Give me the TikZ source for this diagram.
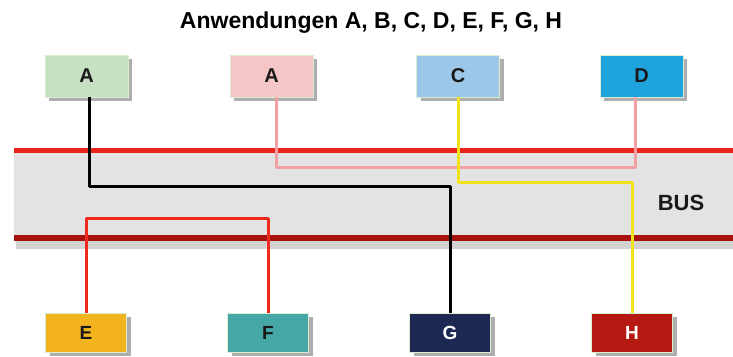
\documentclass[tikz,border=0pt]{standalone}
\usepackage{fontspec}
\setmainfont{Liberation Sans}
\usetikzlibrary{shadows}
\definecolor{cA}{HTML}{C6E1C2}
\definecolor{cB}{HTML}{F4C6C8}
\definecolor{cC}{HTML}{9CC7E8}
\definecolor{cD}{HTML}{1FA3DC}
\definecolor{cE}{HTML}{F2B31E}
\definecolor{cF}{HTML}{45A8A7}
\definecolor{cG}{HTML}{1D2852}
\definecolor{cH}{HTML}{B51A12}
\definecolor{busgray}{HTML}{E3E3E3}
\definecolor{busred}{HTML}{E8241A}
\definecolor{busdark}{HTML}{A8120C}
\definecolor{pinkline}{HTML}{F2A0A2}
\definecolor{yelline}{HTML}{F2E21C}
\definecolor{redline}{HTML}{EE2A1E}
\definecolor{boxedge}{HTML}{D9EDD3}
\begin{document}
\begin{tikzpicture}[x=1pt,y=-1pt,
  app/.style={draw=boxedge, line width=0.8pt, minimum width=83pt, minimum height=42pt,
    inner sep=0pt, font=\fontsize{20}{20}\bfseries, text=black!90,
    drop shadow={shadow xshift=4pt, shadow yshift=-4pt, opacity=0.45, fill=black!70}},
  appb/.style={app, minimum width=81pt, minimum height=39pt, font=\fontsize{19}{19}\bfseries},
  conn/.style={line width=3pt, line join=round}]
\useasboundingbox (0,0) rectangle (733,356);
% title
\node (title) at (371,23) {\fontsize{23}{23}\bfseries Anwendungen A, B, C, D, E, F, G, H};
% bus
\fill[black!35, opacity=0.5] (16,240) rectangle (733,249);
\fill[busgray] (14,150) rectangle (733,238);
\draw[busred, line width=5pt] (14,150) -- (733,150);
\draw[busdark, line width=6pt] (14,238) -- (733,238);
\node[font=\fontsize{22}{22}\bfseries, text=black!90] (bus) at (681,203) {BUS};
% top boxes
\node[app, fill=cA] (a1) at (86.5,76) {A};
\node[app, fill=cB] (a2) at (271.5,76) {A};
\node[app, fill=cC] (c) at (458,76) {C};
\node[app, fill=cD] (d) at (641.5,76) {D};
% bottom boxes
\node[appb, fill=cE] (e) at (86,332.5) {E};
\node[appb, fill=cF] (f) at (268,332.5) {F};
\node[appb, fill=cG, text=white] (g) at (450,332.5) {G};
\node[appb, fill=cH, text=white] (h) at (632,332.5) {H};
% connectors
\draw[conn, pinkline] ([xshift=4.5pt]a2.south) -- ([xshift=4.5pt]a2.south |- 0,167) -| ([xshift=-6.5pt]d.south);
\draw[conn, black] ([xshift=2.5pt]a1.south) -- ([xshift=2.5pt]a1.south |- 0,186) -| (g.north);
\draw[conn, yelline] (c.south) -- (c.south |- 0,182) -| (h.north);
\draw[conn, redline] (e.north) -- (e.north |- 0,218) -| (f.north);
\end{tikzpicture}
\end{document}
